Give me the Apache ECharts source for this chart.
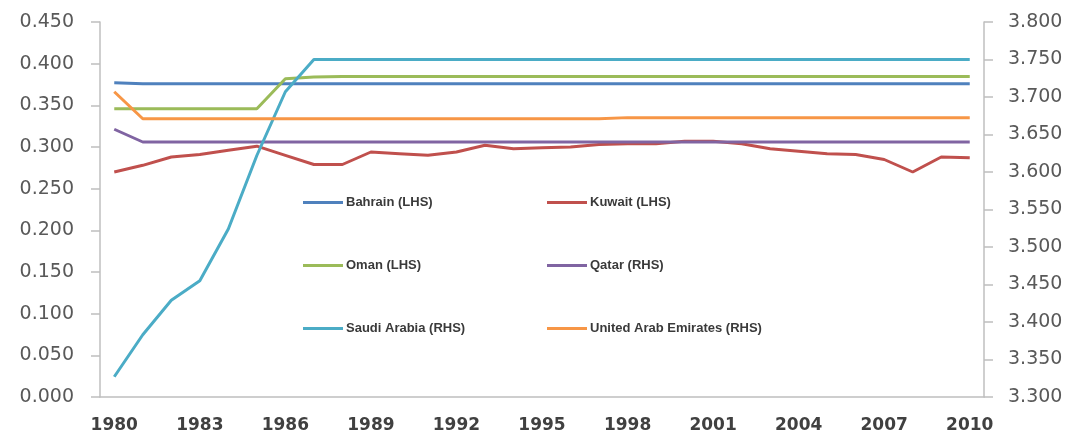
<!DOCTYPE html>
<html>
<head>
<meta charset="utf-8">
<script src="https://cdn.jsdelivr.net/npm/echarts@6/dist/echarts.min.js"></script>
<style>html,body{margin:0;padding:0;background:#fff}#c{width:1080px;height:437px}</style>
</head>
<body>
<div id="c"></div>
<script>
var years = [];
for (var y = 1980; y <= 2010; y++) years.push(String(y));

var bahrain = [0.377,0.376,0.376,0.376,0.376,0.376,0.376,0.376,0.376,0.376,0.376,0.376,0.376,0.376,0.376,0.376,0.376,0.376,0.376,0.376,0.376,0.376,0.376,0.376,0.376,0.376,0.376,0.376,0.376,0.376,0.376];
var kuwait = [0.270,0.278,0.288,0.291,0.296,0.301,0.290,0.279,0.279,0.294,0.292,0.290,0.294,0.302,0.298,0.299,0.300,0.303,0.304,0.304,0.307,0.307,0.304,0.298,0.295,0.292,0.291,0.285,0.270,0.288,0.287];
var oman = [0.346,0.346,0.346,0.346,0.346,0.346,0.382,0.384,0.3845,0.3845,0.3845,0.3845,0.3845,0.3845,0.3845,0.3845,0.3845,0.3845,0.3845,0.3845,0.3845,0.3845,0.3845,0.3845,0.3845,0.3845,0.3845,0.3845,0.3845,0.3845,0.3845];
var qatar = [3.657,3.640,3.640,3.640,3.640,3.640,3.640,3.640,3.640,3.640,3.640,3.640,3.640,3.640,3.640,3.640,3.640,3.640,3.640,3.640,3.640,3.640,3.640,3.640,3.640,3.640,3.640,3.640,3.640,3.640,3.640];
var saudi = [3.327,3.383,3.429,3.455,3.524,3.622,3.707,3.750,3.750,3.750,3.750,3.750,3.750,3.750,3.750,3.750,3.750,3.750,3.750,3.750,3.750,3.750,3.750,3.750,3.750,3.750,3.750,3.750,3.750,3.750,3.750];
var uae = [3.707,3.671,3.671,3.671,3.671,3.671,3.671,3.671,3.671,3.671,3.671,3.671,3.671,3.671,3.671,3.671,3.671,3.671,3.6725,3.6725,3.6725,3.6725,3.6725,3.6725,3.6725,3.6725,3.6725,3.6725,3.6725,3.6725,3.6725];

var names = ['Bahrain (LHS)','Kuwait (LHS)','Oman (LHS)','Qatar (RHS)','Saudi Arabia (RHS)','United Arab Emirates (RHS)'];
var colors = ['#4F81BD','#C0504D','#9BBB59','#8064A2','#4BACC6','#F79646'];
var dataSets = [bahrain, kuwait, oman, qatar, saudi, uae];
var axisIdx = [0,0,0,1,1,1];

var leftLabels = ['0.000','0.050','0.100','0.150','0.200','0.250','0.300','0.350','0.400','0.450'];
var rightLabels = ['3.300','3.350','3.400','3.450','3.500','3.550','3.600','3.650','3.700','3.750','3.800'];

var chart = echarts.init(document.getElementById('c'), null, {renderer:'canvas'});

var legendPos = [[303,196],[547,196],[303,259],[547,259],[303,322],[547,322]];
var legends = names.map(function(n,i){
  return {
    data:[{name:n, icon:'rect'}], left: legendPos[i][0], top: legendPos[i][1],
    itemWidth:40, itemHeight:3, selectedMode:false, padding:0,
    itemStyle:{color:colors[i], borderWidth:0},
    textStyle:{fontFamily:'Liberation Sans', fontWeight:'bold', fontSize:13, color:'#3a3a3a', padding:[0,0,0,-2]}
  };
});

var axisLabelStyle = {fontFamily:'DejaVu Sans', fontSize:19, color:'#595959'};

chart.setOption({
  animation:false,
  backgroundColor:'#ffffff',
  grid:{left:100, right:96, top:22, bottom:40, containLabel:false},
  legend: legends,
  xAxis:{
    type:'category', data:years, boundaryGap:true,
    axisLine:{lineStyle:{color:'#BFBFBF', width:1.5}},
    axisTick:{interval:2, length:5, lineStyle:{color:'#BFBFBF', width:1.5}},
    axisLabel:{interval:2, margin:20, fontFamily:'DejaVu Sans', fontWeight:'bold', fontSize:17, color:'#404040'},
    splitLine:{show:false}
  },
  yAxis:[
    {type:'value', min:0, max:0.45, interval:0.05, position:'left',
     axisLine:{show:true, lineStyle:{color:'#BFBFBF', width:1.5}},
     axisTick:{show:true, length:9, lineStyle:{color:'#BFBFBF', width:1.5}},
     axisLabel:Object.assign({margin:26, formatter:function(v){return leftLabels[Math.round(v/0.05)];}}, axisLabelStyle),
     splitLine:{show:false}},
    {type:'value', min:3.3, max:3.8, interval:0.05, position:'right',
     axisLine:{show:true, lineStyle:{color:'#BFBFBF', width:1.5}},
     axisTick:{show:true, length:9, lineStyle:{color:'#BFBFBF', width:1.5}},
     axisLabel:Object.assign({margin:24, formatter:function(v){return rightLabels[Math.round((v-3.3)/0.05)];}}, axisLabelStyle),
     splitLine:{show:false}}
  ],
  series: names.map(function(n,i){
    return {
      name:n, type:'line', yAxisIndex:axisIdx[i], data:dataSets[i],
      symbol:'none', smooth:false,
      lineStyle:{color:colors[i], width:3},
      itemStyle:{color:colors[i]}
    };
  })
});
</script>
</body>
</html>
